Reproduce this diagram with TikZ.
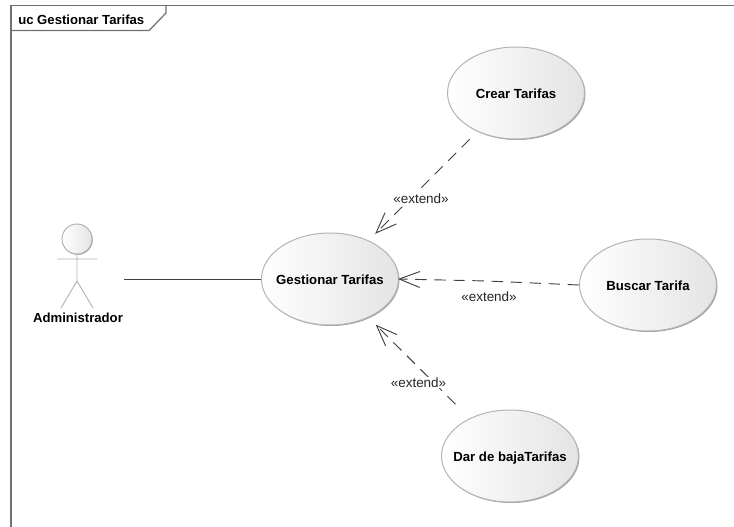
\documentclass[tikz,border=0pt]{standalone}
\usepackage{fontspec}
\setmainfont{Liberation Sans}
\usetikzlibrary{arrows.meta,shapes.geometric,shadows}
\definecolor{framec}{HTML}{707070}
\definecolor{linec}{HTML}{404040}
\definecolor{labelc}{HTML}{262626}
\definecolor{ucedge}{HTML}{B4B4B4}
\definecolor{ucshadow}{HTML}{A0A0A0}
\definecolor{ucend}{HTML}{E4E4E4}
\newcommand{\uctext}[1]{\makebox[0pt]{\smash{\raisebox{-3.9pt}{#1}}}}
\tikzset{
  usecase/.style={ellipse,draw=ucedge,line width=0.75pt,left color=white,right color=ucend,
    minimum width=102.75pt,minimum height=69pt,inner sep=0pt,text=black,
    font=\fontsize{9.9pt}{11pt}\selectfont\bfseries,
    general shadow={shadow xshift=0.75pt,shadow yshift=-0.75pt,fill=ucshadow}},
  actorlimb/.style={draw=ucedge,line width=0.7pt},
  actorhead/.style={circle,draw=ucedge,line width=0.75pt,left color=white,right color=ucend,
    minimum size=22.5pt,inner sep=0pt,
    general shadow={shadow xshift=0.6pt,shadow yshift=-0.6pt,fill=ucshadow}},
  framel/.style={draw=framec,line width=0.9pt},
  assoc/.style={draw=linec,line width=0.7pt},
  ext/.style={draw=linec,line width=0.7pt,dash pattern=on 8.5pt off 5.8pt,
    -{Straight Barb[length=15.5pt,width=12pt,line width=0.7pt]}},
  extlabel/.style={fill=white,inner sep=0.5pt,text=labelc,font=\fontsize{10.1pt}{11pt}\selectfont},
  boldlabel/.style={inner sep=0pt,text=black,font=\fontsize{9.85pt}{11pt}\selectfont\bfseries},
}
\begin{document}
\begin{tikzpicture}[x=0.75pt,y=-0.75pt]
\useasboundingbox (0,0) rectangle (734,527);
\fill[white] (0,0) rectangle (734,527);
% frame
\draw[framel] (11,527) -- (11,5.3) -- (734,5.3);
\draw[framel] (11,30.6) -- (149,30.6) -- (166,13) -- (166,5.3);
\node[boldlabel,anchor=west] (title) at (18,19.5) {uc Gestionar Tarifas};
% use cases
\node[usecase] (crear) at (516,93) {\uctext{Crear Tarifas}};
\node[usecase] (gest) at (330,279) {\uctext{Gestionar Tarifas}};
\node[usecase] (buscar) at (648,285) {\uctext{Buscar Tarifa}};
\node[usecase] (dar) at (510,456) {\uctext{Dar de bajaTarifas}};
% actor
\node[actorhead] (head) at (77,239) {};
\coordinate (arml) at (57,259);
\coordinate (armr) at (97,259);
\coordinate (hip) at (77,281);
\coordinate (legl) at (61,308);
\coordinate (legr) at (93,308);
\draw[actorlimb] (head.south) -- (hip) (arml) -- (armr) (legl) -- (hip) -- (legr);
\node[boldlabel] (admin) at (78,318) {Administrador};
\coordinate (actorend) at (124,279);
\draw[assoc] (actorend) -- (gest.west);
% extend connectors
\draw[ext,shorten <=8.2pt,shorten >=7pt] (crear.225) -- (gest.45);
\coordinate (bend) at (487,281);
\draw[ext,shorten >=-0.8pt] (buscar.west) -- (bend) -- (gest.east);
\draw[ext,shorten <=15pt,shorten >=7.6pt] (dar.137) -- (gest.-45);
% labels
\node[extlabel] (l1) at (421,198.5) {«extend»};
\node[extlabel] (l2) at (489,296.5) {«extend»};
\node[extlabel] (l3) at (418.5,382.5) {«extend»};
\end{tikzpicture}
\end{document}
